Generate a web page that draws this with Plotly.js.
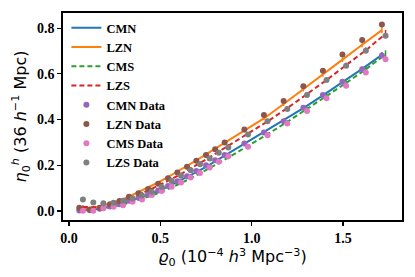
<!DOCTYPE html>
<html>
<head>
<meta charset="utf-8">
<script src="https://cdn.plot.ly/plotly-3.0.1.min.js"></script>
<style>html,body{margin:0;padding:0;background:#fff;}#chart{width:415px;height:277px;}</style>
</head>
<body>
<div id="chart"></div>
<script>
// x positions (10^-4 h^3 Mpc^-3)
const xN = [0.056,0.113,0.168,0.224,0.276,0.328,0.38,0.433,0.488,0.542,0.593,0.646,0.697,0.75,0.80,0.852,0.96,1.067,1.175,1.283,1.39,1.497,1.605,1.713];
const xS = [0.076,0.133,0.188,0.244,0.296,0.348,0.40,0.453,0.508,0.562,0.613,0.666,0.717,0.77,0.82,0.872,0.98,1.087,1.195,1.303,1.41,1.517,1.625,1.733];

// model curves
const cmnModel = [0.004,0.005,0.01,0.019,0.029,0.042,0.056,0.071,0.088,0.107,0.127,0.148,0.17,0.193,0.217,0.241,0.292,0.343,0.395,0.45,0.506,0.563,0.622,0.683];
const lznModel = [0.012,0.013,0.02,0.032,0.046,0.063,0.082,0.103,0.125,0.149,0.172,0.197,0.222,0.248,0.273,0.299,0.352,0.405,0.468,0.532,0.597,0.662,0.727,0.791];
const cmsModel = [0.004,0.006,0.012,0.02,0.029,0.041,0.053,0.068,0.085,0.103,0.122,0.143,0.164,0.187,0.21,0.234,0.284,0.336,0.39,0.446,0.503,0.56,0.62,0.685];
const lzsModel = [0.018,0.017,0.022,0.032,0.045,0.06,0.078,0.097,0.118,0.14,0.162,0.186,0.21,0.235,0.26,0.285,0.338,0.392,0.45,0.51,0.573,0.638,0.703,0.775];

// model uncertainties
const cmnErr = [0.004,0.004,0.004,0.004,0.004,0.005,0.005,0.005,0.005,0.005,0.006,0.006,0.006,0.006,0.006,0.007,0.007,0.007,0.008,0.008,0.009,0.009,0.01,0.012];
const lznErr = [0.005,0.004,0.004,0.004,0.005,0.005,0.005,0.005,0.006,0.006,0.006,0.006,0.007,0.007,0.007,0.007,0.008,0.008,0.009,0.009,0.01,0.01,0.011,0.014];
const cmsErr = [0.004,0.004,0.004,0.004,0.004,0.005,0.005,0.005,0.005,0.005,0.006,0.006,0.006,0.006,0.006,0.007,0.007,0.008,0.008,0.009,0.009,0.01,0.011,0.018];
const lzsErr = [0.008,0.005,0.004,0.004,0.005,0.005,0.005,0.005,0.006,0.006,0.006,0.006,0.007,0.007,0.007,0.008,0.008,0.009,0.009,0.01,0.01,0.011,0.012,0.017];

// measured data
const cmnData = [0.003,0.004,0.01,0.02,0.03,0.045,0.058,0.073,0.09,0.11,0.13,0.152,0.175,0.2,0.222,0.245,0.296,0.344,0.393,0.452,0.507,0.565,0.62,0.68];
const lznData = [0.015,0.007,0.015,0.03,0.044,0.063,0.078,0.096,0.12,0.143,0.169,0.194,0.22,0.245,0.27,0.30,0.357,0.42,0.481,0.546,0.613,0.685,0.748,0.816];
const cmsData = [0.001,0.001,0.012,0.019,0.026,0.041,0.051,0.07,0.088,0.106,0.125,0.147,0.167,0.191,0.216,0.24,0.281,0.332,0.383,0.438,0.493,0.548,0.606,0.664];
const lzsData = [0.051,0.038,0.034,0.036,0.045,0.055,0.068,0.085,0.105,0.132,0.154,0.179,0.205,0.23,0.255,0.278,0.335,0.393,0.446,0.507,0.573,0.635,0.701,0.766];

const C = {blue:'#1f77b4',orange:'#ff7f0e',green:'#2ca02c',red:'#d62728',purple:'#9467bd',brown:'#8c564b',pink:'#e377c2',gray:'#7f7f7f'};

function model(name, x, y, e, color, dash){
  return {name:name, x:x, y:y, type:'scatter', mode:'lines',
    line:{color:color, width:2, dash:dash},
    error_y:{type:'data', array:e, visible:true, color:color, thickness:1.5, width:0}};
}
function pts(name, x, y, color){
  return {name:name, x:x, y:y, type:'scatter', mode:'markers',
    marker:{color:color, size:6}};
}

const data = [
  model('CMN', xN, cmnModel, cmnErr, C.blue, 'solid'),
  model('LZN', xN, lznModel, lznErr, C.orange, 'solid'),
  model('CMS', xS, cmsModel, cmsErr, C.green, '5px,3px'),
  model('LZS', xS, lzsModel, lzsErr, C.red, '5px,3px'),
  pts('CMN Data', xN, cmnData, C.purple),
  pts('LZN Data', xN, lznData, C.brown),
  pts('CMS Data', xS, cmsData, C.pink),
  pts('LZS Data', xS, lzsData, C.gray)
];

const tickFont = {family:'"Liberation Serif", "Times New Roman", serif', size:14, color:'#000', weight:700};
const layout = {
  width:415, height:277,
  margin:{l:63, r:13, t:13, b:57},
  paper_bgcolor:'#fff', plot_bgcolor:'#fff',
  showlegend:true,
  legend:{x:0.01, y:1.0, xanchor:'left', yanchor:'top', bgcolor:'rgba(0,0,0,0)',
    font:{family:'"Liberation Serif", "Times New Roman", serif', size:12.5, color:'#000', weight:700},
    tracegroupgap:0, itemwidth:30},
  xaxis:{range:[-0.033,1.823], tickvals:[0,0.5,1.0,1.5], ticktext:['0.0','0.5','1.0','1.5'],
    showgrid:false, zeroline:false, showline:true, mirror:true, linecolor:'#000', linewidth:1.8,
    ticks:'outside', ticklen:4, tickwidth:1.2, tickcolor:'#000', tickfont:tickFont,
    title:{text:'<i>ϱ</i><sub>0</sub> (10<sup>−4</sup> <i>h</i><sup>3</sup> Mpc<sup>−3</sup>)',
      font:{family:'DejaVu Sans', size:16, color:'#000'}, standoff:4}},
  yaxis:{range:[-0.039,0.866], tickvals:[0,0.2,0.4,0.6,0.8], ticktext:['0.0','0.2','0.4','0.6','0.8'],
    showgrid:false, zeroline:false, showline:true, mirror:true, linecolor:'#000', linewidth:1.8,
    ticks:'outside', ticklen:4, tickwidth:1.2, tickcolor:'#000', tickfont:tickFont,
    title:{text:'<i>η</i><sub>0</sub><sup><i>h</i></sup> (36 <i>h</i><sup>−1</sup> Mpc)',
      font:{family:'DejaVu Sans', size:16, color:'#000'}, standoff:6}}
};

Plotly.newPlot('chart', data, layout, {displayModeBar:false, staticPlot:true});
</script>
</body>
</html>
